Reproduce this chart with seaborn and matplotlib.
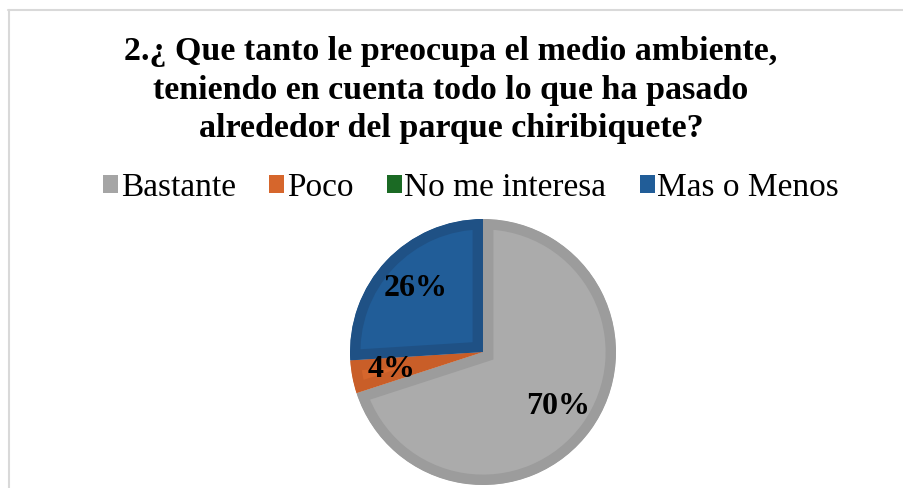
import matplotlib
matplotlib.use("Agg")
import matplotlib.pyplot as plt
from matplotlib.patches import Patch
from matplotlib.lines import Line2D
import seaborn as sns

# data
categories = ["Bastante", "Poco", "No me interesa", "Mas o Menos"]
values = [70, 4, 0, 26]
fill_colors = ["#ababab", "#d6662c", "#1b6a24", "#215d98"]
edge_colors = ["#9c9c9c", "#c95e28", "#175d20", "#1f5185"]
legend_colors = ["#a5a5a5", "#d6662c", "#1b6a24", "#215d98"]
title = ("2.¿ Que tanto le preocupa el medio ambiente,\n"
         "teniendo en cuenta todo lo que ha pasado\n"
         "alrededor del parque chiribiquete?")

sns.set_style("white")
plt.rcParams['font.family'] = ['Liberation Serif', 'DejaVu Serif']
plt.rcParams['text.color'] = 'black'

W, H = 904, 488
fig = plt.figure(figsize=(W / 100, H / 100), dpi=100)

# chart frame (only top/left edges visible in the crop)
fig.add_artist(Line2D([9 / W, 9 / W], [0, 1 - 10 / H], color="#d9d9d9", lw=1.5, transform=fig.transFigure))
fig.add_artist(Line2D([8 / W, 1], [1 - 10 / H, 1 - 10 / H], color="#d9d9d9", lw=1.5, transform=fig.transFigure))

fig.text(451 / W, 1 - 90 / H, title, ha="center", va="center", fontsize=24.5,
         fontweight="bold", linespacing=1.3, color="black")

# pie
cx, cy, r = 483, 352, 133
ax = fig.add_axes([(cx - r) / W, (H - cy - r) / H, 2 * r / W, 2 * r / H])


def pct(p):
    return "" if p < 0.5 else f"{p:.0f}%"


wedges, texts, autotexts = ax.pie(values, colors=fill_colors, startangle=90, counterclock=False,
                                  autopct=pct, pctdistance=0.7,
                                  wedgeprops=dict(linewidth=15, joinstyle="miter"),
                                  textprops=dict(fontsize=23, fontweight="bold", color="black"))
# inner border: clip each wedge's stroke to the wedge itself
for w, ec in zip(wedges, edge_colors):
    w.set_edgecolor(ec)
    w.set_clip_on(True)
    w.set_clip_path(w.get_path(), w.get_transform())
ax.set_xlim(-1, 1)
ax.set_ylim(-1, 1)
ax.set_aspect("equal")

handles = [Patch(facecolor=c, edgecolor="none") for c in legend_colors]
fig.legend(handles, categories, loc="center", bbox_to_anchor=(471 / W, 1 - 188 / H),
           ncol=4, frameon=False, fontsize=24, handlelength=0.45, handleheight=0.45,
           handletextpad=0.08, columnspacing=1.0, borderpad=0)

fig.savefig("out.png", dpi=100)
